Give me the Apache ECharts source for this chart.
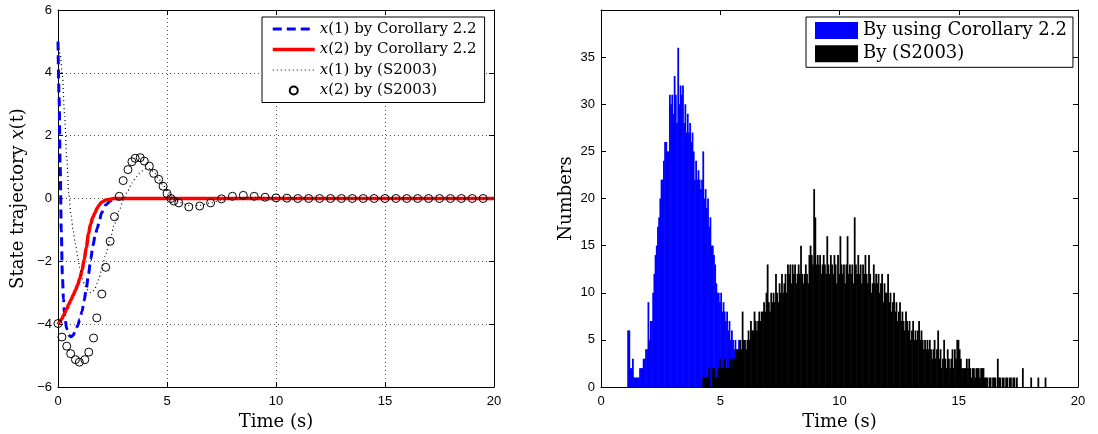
<!DOCTYPE html>
<html><head><meta charset="utf-8">
<script src="https://cdn.jsdelivr.net/npm/echarts@6/dist/echarts.min.js"></script>
<style>html,body{margin:0;padding:0;background:#fff}#c{width:1098px;height:434px}</style>
</head><body><div id="c"></div>
<script>
// ---------- left panel data ----------
const tCor = [0,0.05,0.1,0.15,0.2,0.25,0.3,0.4,0.5,0.6,0.7,0.8,0.9,1.0,1.1,1.2,1.3,1.4,1.5,1.6,1.7,1.8,1.9,2.0,2.2,2.4,2.6,2.8,3.0,3.5,4,5,6,8,10,12,14,16,18,20];
const x1Cor = [5,3.2,1.0,-1.0,-2.4,-3.2,-3.7,-4.15,-4.35,-4.4,-4.35,-4.2,-4.05,-3.85,-3.6,-3.25,-2.85,-2.4,-1.95,-1.5,-1.2,-0.95,-0.7,-0.45,-0.2,-0.08,-0.03,-0.01,0,0,0,0,0,0,0,0,0,0,0,0];
const x2Cor = [-4,-3.95,-3.9,-3.85,-3.8,-3.72,-3.66,-3.52,-3.36,-3.22,-3.07,-2.92,-2.75,-2.55,-2.3,-1.95,-1.55,-1.12,-0.8,-0.6,-0.45,-0.3,-0.2,-0.12,-0.05,-0.02,0,0,0,0,0,0,0,0,0,0,0,0,0,0];
const tS1 = [0,0.1,0.2,0.3,0.4,0.5,0.6,0.7,0.8,0.9,1.0,1.1,1.2,1.3,1.4,1.5,1.6,1.7,1.8,1.9,2.0,2.2,2.4,2.6,2.8,3.0,3.2,3.4,3.6,3.8,4.0,4.2,4.4,4.6,4.8,5.0,5.2,5.4,5.6,6.0,6.5,7.0,7.5,8.0,9.0,10,11,12,14,16,18,20];
const x1S = [4.9,4.6,3.9,2.7,1.3,0.1,-0.55,-1.05,-1.45,-1.85,-2.2,-2.5,-2.7,-2.85,-2.95,-3.0,-2.95,-2.85,-2.7,-2.5,-2.25,-1.75,-1.25,-0.8,-0.4,-0.05,0.25,0.5,0.7,0.85,0.95,0.95,0.85,0.65,0.45,0.25,0.08,-0.05,-0.13,-0.22,-0.22,-0.14,-0.05,0.02,0.04,0.02,0.01,0,0,0,0,0];
const tS2 = [0,0.18,0.4,0.58,0.8,0.98,1.23,1.41,1.63,1.78,2.01,2.19,2.39,2.59,2.81,2.99,3.21,3.39,3.54,3.77,3.96,4.19,4.39,4.62,4.82,5.0,5.18,5.31,5.54,6.0,6.5,7.0,7.5,8.0,8.5,9.0,9.5,10.0,10.5,11.0,11.5,12.0,12.5,13.0,13.5,14.0,14.5,15.0,15.5,16.0,16.5,17.0,17.5,18.0,18.5,19.0,19.5];
const x2S = [-3.98,-4.41,-4.70,-4.94,-5.13,-5.21,-5.13,-4.89,-4.44,-3.80,-3.04,-2.19,-1.36,-0.58,0.07,0.57,0.92,1.17,1.28,1.30,1.19,1.03,0.80,0.61,0.39,0.16,0.0,-0.08,-0.14,-0.27,-0.24,-0.14,-0.01,0.07,0.10,0.07,0.04,0.02,0.01,0,0,0,0,0,0,0,0,0,0,0,0,0,0,0,0,0,0];

// ---------- right panel data (histogram bins) ----------
const binWidth = 0.05;
const blueStart = 1.10;
const blueCounts = [6,6,2,2,3,1,1,1,1,1,
  2,2,2,3,3,4,4,9,5,7,
  7,10,12,14,15,17,18,20,22,22,
  24,26,26,25,25,31,30,31,29,33,
  31,28,36,30,32,31,32,28,30,27,
  29,27,28,26,27,25,22,24,22,23,
  22,21,22,25,20,21,19,20,17,18,
  15,15,14,13,11,10,10,9,10,8,
  9,8,7,8,6,7,5,6,5,4,
  5,3,4,5,3,2,5];
const blackStart = 4.25;
const blackCounts = [1,1,1,1,1,2,0,0,2,2,1,1,1,2,
  3,2,2,2,3,2,2,2,2,3,2,3,3,3,4,4,4,5,4,8,
  5,5,4,5,6,5,7,6,6,8,7,6,7,8,7,8,8,9,8,10,
  13,9,8,10,9,10,9,12,10,9,11,10,12,10,11,12,10,13,12,13,
  11,13,12,13,11,12,13,12,15,12,11,12,13,12,11,14,15,14,13,21,
  18,13,14,13,14,12,13,14,13,12,16,13,12,14,13,12,14,13,11,14,
  12,16,13,12,13,11,13,16,12,13,12,13,11,18,13,12,14,12,13,11,
  13,12,14,12,11,14,12,10,11,13,11,12,11,12,10,11,12,9,11,10,
  10,12,9,10,8,9,10,8,9,7,8,9,7,8,7,6,8,7,6,7,
  5,6,7,5,6,5,6,7,5,6,5,4,5,4,5,4,5,4,3,4,
  5,3,4,6,3,4,2,3,5,3,2,4,3,2,3,4,2,4,3,5,
  5,4,3,2,2,2,2,3,2,3,2,1,2,2,1,2,2,2,1,2,
  2,2,1,1,1,0,1,1,0,1,1,1,0,3,1,1,0,1,1,0,
  1,1,0,1,1,0,1,1,0,1,0,0,0,0,2,0,0,0,0,0,
  0,1,0,0,0,0,0,1,0,0,0,0,0,1];

const legendLeft = ['x(1) by Corollary 2.2','x(2) by Corollary 2.2','x(1) by (S2003)','x(2) by (S2003)'];
const legendRight = ['By using Corollary 2.2','By (S2003)'];

// ---------- build ----------
const pairs = (ts, vs) => ts.map((t, i) => [t, vs[i]]);
const bins = (start, counts) => counts.map((c, i) => [+(start + i * binWidth).toFixed(3), c]);

const SERIF = 'DejaVu Serif';
const SANS = 'Liberation Sans';
const tickLabel = {fontFamily: SANS, fontSize: 13, color: '#000'};
const axLine = {show: true, onZero: false, lineStyle: {color: '#000', width: 1}};
const axTick = {show: true, inside: true, length: 5, lineStyle: {color: '#000', width: 1}};
const gridDots = {show: true, lineStyle: {color: '#555', width: 1, type: [1, 3]}};
const minusFmt = v => String(v).replace('-', '\u2212');
const nameStyle = {fontFamily: SERIF, fontSize: 18, color: '#000',
  rich: {i: {fontFamily: SERIF, fontSize: 18, fontStyle: 'italic', color: '#000'}}};

function renderBin(params, api) {
  const x0 = api.value(0), y = api.value(1);
  if (!y) return null;
  const a = api.coord([x0, y]);
  const b = api.coord([x0 + binWidth, 0]);
  return {type: 'rect', shape: {x: a[0], y: a[1], width: b[0] - a[0] + 0.6, height: b[1] - a[1]},
    style: api.style()};
}

const noSym = {opacity: 0};
const chart = echarts.init(document.getElementById('c'), null, {renderer: 'canvas'});
chart.setOption({
  animation: false,
  backgroundColor: '#fff',
  grid: [
    {left: 58, top: 10, width: 436, height: 377, containLabel: false, outerBoundsMode: 'none'},
    {left: 601, top: 10, width: 477, height: 377, containLabel: false, outerBoundsMode: 'none'}
  ],
  xAxis: [
    {gridIndex: 0, type: 'value', min: 0, max: 20, interval: 5, position: 'bottom',
      axisLine: axLine, axisTick: axTick, axisLabel: {...tickLabel, margin: 8},
      splitLine: gridDots, name: 'Time (s)', nameLocation: 'middle', nameGap: 22, nameTextStyle: nameStyle},
    {gridIndex: 0, type: 'value', min: 0, max: 20, interval: 5, position: 'top',
      axisLine: axLine, axisTick: axTick, axisLabel: {show: false}, splitLine: {show: false}},
    {gridIndex: 1, type: 'value', min: 0, max: 20, interval: 5, position: 'bottom',
      axisLine: axLine, axisTick: axTick, axisLabel: {...tickLabel, margin: 8},
      splitLine: {show: false}, name: 'Time (s)', nameLocation: 'middle', nameGap: 22, nameTextStyle: nameStyle},
    {gridIndex: 1, type: 'value', min: 0, max: 20, interval: 5, position: 'top',
      axisLine: axLine, axisTick: axTick, axisLabel: {show: false}, splitLine: {show: false}}
  ],
  yAxis: [
    {gridIndex: 0, type: 'value', min: -6, max: 6, interval: 2, position: 'left',
      axisLine: axLine, axisTick: axTick, axisLabel: {...tickLabel, margin: 6, formatter: minusFmt},
      splitLine: gridDots, name: 'State trajectory {i|x}(t)', nameLocation: 'middle', nameGap: 31,
      nameTextStyle: nameStyle},
    {gridIndex: 0, type: 'value', min: -6, max: 6, interval: 2, position: 'right',
      axisLine: axLine, axisTick: axTick, axisLabel: {show: false}, splitLine: {show: false}},
    {gridIndex: 1, type: 'value', min: 0, max: 40, interval: 5, position: 'left',
      axisLine: axLine, axisTick: axTick,
      axisLabel: {...tickLabel, margin: 6, formatter: v => (v === 40 ? '' : String(v))},
      splitLine: {show: false}, name: 'Numbers', nameLocation: 'middle', nameGap: 26, nameTextStyle: nameStyle},
    {gridIndex: 1, type: 'value', min: 0, max: 40, interval: 5, position: 'right',
      axisLine: axLine, axisTick: axTick, axisLabel: {show: false}, splitLine: {show: false}}
  ],
  legend: [
    {data: [
        {name: legendLeft[0], itemStyle: noSym, lineStyle: {color: '#0000ff', width: 3, type: [9, 5]}},
        {name: legendLeft[1], itemStyle: noSym, lineStyle: {color: '#ff0000', width: 3.5, type: 'solid'}},
        {name: legendLeft[2], itemStyle: noSym, lineStyle: {color: '#000', width: 1.2, type: [1, 3]}},
        {name: legendLeft[3]}
      ],
      orient: 'vertical', left: 262, top: 17, itemWidth: 42, itemHeight: 10, itemGap: 0.5,
      padding: [2, 8, 2, 9], borderColor: '#000', borderWidth: 1, borderRadius: 0, backgroundColor: '#fff',
      selectedMode: false,
      formatter: n => n.replace(/^x/, '{i|x}'),
      textStyle: {fontFamily: SERIF, fontSize: 15, color: '#000', lineHeight: 20,
        rich: {i: {fontFamily: SERIF, fontSize: 15, fontStyle: 'italic', color: '#000', lineHeight: 20}}}},
    {data: legendRight, orient: 'vertical', left: 806, top: 17, itemWidth: 43, itemHeight: 17, itemGap: 5.3,
      padding: [4.5, 6, 4.5, 9], borderColor: '#000', borderWidth: 1, borderRadius: 0, backgroundColor: '#fff',
      selectedMode: false, icon: 'rect',
      textStyle: {fontFamily: SERIF, fontSize: 18, color: '#000', lineHeight: 17}}
  ],
  series: [
    {name: legendLeft[0], type: 'line', xAxisIndex: 0, yAxisIndex: 0, data: pairs(tCor, x1Cor),
      symbol: 'none', smooth: 0.3, smoothMonotone: 'x',
      lineStyle: {color: '#0000ff', width: 3, type: [9, 5]}, itemStyle: {color: '#0000ff'}, z: 2},
    {name: legendLeft[1], type: 'line', xAxisIndex: 0, yAxisIndex: 0, data: pairs(tCor, x2Cor),
      symbol: 'none', smooth: 0.3, smoothMonotone: 'x',
      lineStyle: {color: '#ff0000', width: 3.5}, itemStyle: {color: '#ff0000'}, z: 3},
    {name: legendLeft[2], type: 'line', xAxisIndex: 0, yAxisIndex: 0, data: pairs(tS1, x1S),
      symbol: 'none', smooth: 0.3, smoothMonotone: 'x',
      lineStyle: {color: '#000', width: 1.2, type: [1, 3]}, itemStyle: {color: '#000'}, z: 4},
    {name: legendLeft[3], type: 'line', xAxisIndex: 0, yAxisIndex: 0, data: pairs(tS2, x2S),
      symbol: 'circle', symbolSize: 8, showSymbol: true, showAllSymbol: true,
      lineStyle: {opacity: 0, width: 1, color: '#000'},
      itemStyle: {color: 'rgba(0,0,0,0)', borderColor: '#000', borderWidth: 1}, z: 5},
    {name: legendRight[0], type: 'custom', xAxisIndex: 2, yAxisIndex: 2, data: bins(blueStart, blueCounts),
      renderItem: renderBin, itemStyle: {color: '#0000ff'}, encode: {x: 0, y: 1}, clip: true, z: 2},
    {name: legendRight[1], type: 'custom', xAxisIndex: 2, yAxisIndex: 2, data: bins(blackStart, blackCounts),
      renderItem: renderBin, itemStyle: {color: '#000000'}, encode: {x: 0, y: 1}, clip: true, z: 3}
  ]
});
</script>
</body></html>
